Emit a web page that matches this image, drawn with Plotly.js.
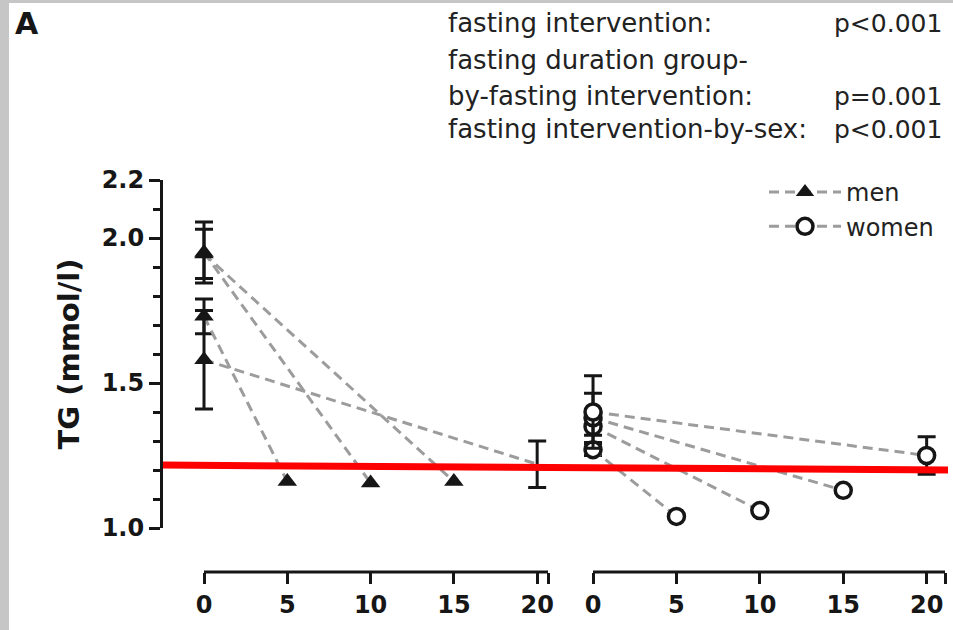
<!DOCTYPE html>
<html>
<head>
<meta charset="utf-8">
<script src="https://cdn.plot.ly/plotly-3.0.1.min.js"></script>
<style>
  html, body { margin: 0; padding: 0; background: #fff; }
  #wrap { position: relative; width: 953px; height: 630px; overflow: hidden; }
  #chart { position: absolute; left: 0; top: 0; width: 953px; height: 630px; }
  .edge { position: absolute; background: #c6c6c6; pointer-events: none; }
</style>
</head>
<body>
<div id="wrap">
  <div id="chart"></div>
  <div class="edge" style="left:0;top:0;width:9px;height:630px;"></div>
  <div class="edge" style="left:0;top:0;width:953px;height:3px;"></div>
</div>
<script>
// ---- data ----
const durations = [5, 10, 15, 20];            // fasting duration groups (days)
const xTickVals = [0, 5, 10, 15, 20];
const xTickText = ['0', '5', '10', '15', '20'];
const yTickVals = [1.0, 1.5, 2.0, 2.2];
const yTickText = ['1.0', '1.5', '2.0', '2.2'];
const yMinorVals = [1.1, 1.2, 1.3, 1.4, 1.6, 1.7, 1.8, 1.9, 2.1];

const menBaseline    = [1.73, 1.95, 1.945, 1.58];
const menBaselineErr = [0.06, 0.105, 0.085, 0.17];
const menEnd         = [1.16, 1.155, 1.16, 1.22];
const menEndErr      = [NaN, NaN, NaN, 0.08];

const womenBaseline    = [1.27, 1.35, 1.38, 1.40];
const womenBaselineErr = [0.02, 0.03, 0.085, 0.125];
const womenEnd         = [1.04, 1.06, 1.13, 1.25];
const womenEndErr      = [NaN, NaN, NaN, 0.065];

const statLabels = ['fasting intervention:', 'fasting duration group-', 'by-fasting intervention:', 'fasting intervention-by-sex:'];
const statValues = ['p&lt;0.001', '', 'p=0.001', 'p&lt;0.001'];

// ---- geometry helpers (pixel -> paper) ----
const L = 161, R = 945, T = 180, B = 572;
const fx = p => (p - L) / (R - L);
const fy = p => (B - p) / (B - T);

const ink = '#161616';
const dashColor = '#9c9c9c';
const errStyle = v => ({type: 'data', array: v, visible: true, color: ink, thickness: 3, width: 9});

const traces = [];
durations.forEach((d, i) => {
  traces.push({
    type: 'scatter', mode: 'lines+markers', xaxis: 'x', yaxis: 'y',
    x: [0, d], y: [menBaseline[i], menEnd[i]],
    error_y: errStyle([menBaselineErr[i], menEndErr[i]]),
    line: {color: dashColor, width: 3, dash: '10px,6px'},
    marker: {symbol: 'triangle-up', size: 17, color: ink, opacity: i === 3 ? [1, 0] : 1},
    name: 'men', legendgroup: 'men', showlegend: i === 0, cliponaxis: false
  });
});
durations.forEach((d, i) => {
  traces.push({
    type: 'scatter', mode: 'lines+markers', xaxis: 'x2', yaxis: 'y',
    x: [0, d], y: [womenBaseline[i], womenEnd[i]],
    error_y: errStyle([womenBaselineErr[i], womenEndErr[i]]),
    line: {color: dashColor, width: 3, dash: '10px,6px'},
    marker: {symbol: 'circle', size: 16, color: '#ffffff', line: {width: 3.5, color: ink}},
    name: 'women', legendgroup: 'women', showlegend: i === 0, cliponaxis: false
  });
});

const tickFont = {family: 'DejaVu Sans', size: 24, weight: 'bold', color: ink};
const pxPerUnit = 16.66;
const pad = 1.5;   // hidden x-range room on the left so error-bar caps at x=0 are not clipped
const xCommon = {
  anchor: 'free', position: 0, showline: false,
  ticks: 'outside', ticklen: 11, tickwidth: 3, tickcolor: ink,
  showgrid: false, zeroline: false,
  tickfont: tickFont, automargin: false, fixedrange: true
};

const layout = {
  width: 953, height: 630,
  margin: {l: L, r: 953 - R, t: T, b: 630 - B},
  paper_bgcolor: '#ffffff', plot_bgcolor: 'rgba(0,0,0,0)',
  font: {family: 'DejaVu Sans', color: ink},
  showlegend: true,
  legend: {
    x: fx(764), y: fy(170), xanchor: 'left', yanchor: 'top',
    bgcolor: 'rgba(0,0,0,0)', font: {family: 'DejaVu Sans', size: 24, color: '#222'},
    itemwidth: 72, traceorder: 'normal'
  },
  xaxis: Object.assign({}, xCommon, {
    domain: [fx(204 - pad * pxPerUnit), fx(548)], range: [-pad, 20.65],
    tickvals: xTickVals.concat([20.65]), ticktext: xTickText.concat([''])
  }),
  xaxis2: Object.assign({}, xCommon, {
    domain: [fx(593 - pad * pxPerUnit), 1], range: [-pad, 21.1],
    tickvals: xTickVals.concat([21.1]), ticktext: xTickText.concat([''])
  }),
  yaxis: {
    anchor: 'free', position: 0, domain: [fy(528), 1], range: [1.0, 2.2],
    showline: true, linewidth: 3, linecolor: ink,
    ticks: 'outside', ticklen: 11, tickwidth: 3, tickcolor: ink,
    tickvals: yTickVals, ticktext: yTickText, tickfont: tickFont,
    minor: {tickvals: yMinorVals, ticks: 'outside', ticklen: 7, tickwidth: 3, tickcolor: ink, showgrid: false},
    showgrid: false, zeroline: false, automargin: false, fixedrange: true,
    title: {text: 'TG (mmol/l)', font: {family: 'DejaVu Sans', size: 29, weight: 'bold', color: ink}, standoff: 12}
  },
  annotations: [
    {text: 'A', xref: 'paper', yref: 'paper', x: fx(13), y: fy(23), xanchor: 'left', yanchor: 'middle',
     showarrow: false, font: {family: 'DejaVu Sans', size: 30, weight: 'bold', color: ink}}
  ].concat(statLabels.map((t, i) => ({
    text: t, xref: 'paper', yref: 'paper', x: fx(446), y: fy([23, 60, 96, 129][i]),
    xanchor: 'left', yanchor: 'middle', showarrow: false,
    font: {family: 'DejaVu Sans', size: 26, color: '#222'}
  }))).concat(statValues.filter(v => v).map((t, k) => ({
    text: t, xref: 'paper', yref: 'paper', x: fx(944), y: fy([23, 96, 129][k]),
    xanchor: 'right', yanchor: 'middle', showarrow: false,
    font: {family: 'DejaVu Sans', size: 25, color: '#222'}
  }))),
  shapes: [
    // visible x-axis lines, starting at x = 0 of each panel
    {type: 'line', xref: 'x', yref: 'paper', x0: 0, x1: 20.65, y0: 0, y1: 0, line: {color: ink, width: 3}, layer: 'below'},
    {type: 'line', xref: 'x2', yref: 'paper', x0: 0, x1: 21.1, y0: 0, y1: 0, line: {color: ink, width: 3}, layer: 'below'},
    // red reference line drawn over the figure
    {type: 'line', xref: 'paper', yref: 'y', x0: fx(163), x1: fx(948), y0: 1.217, y1: 1.20,
     line: {color: '#ff0000', width: 7}, layer: 'above'}
  ]
};

Plotly.newPlot('chart', traces, layout, {displayModeBar: false, staticPlot: true});
</script>
</body>
</html>
